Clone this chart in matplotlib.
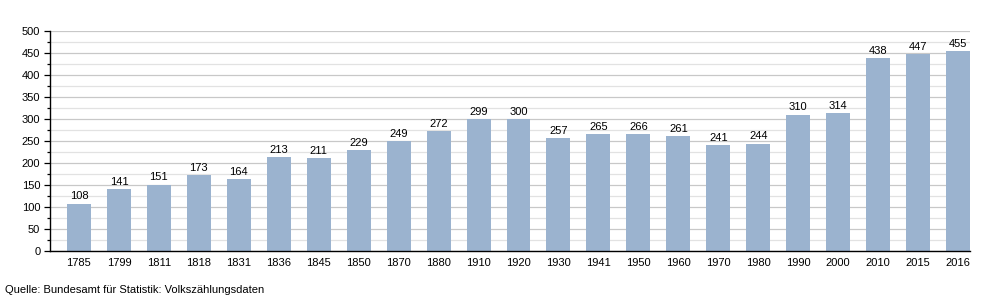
import numpy as np
import matplotlib
matplotlib.use("Agg")
import matplotlib.pyplot as plt
from matplotlib.ticker import MultipleLocator

years = ["1785", "1799", "1811", "1818", "1831", "1836", "1845", "1850", "1870", "1880",
         "1910", "1920", "1930", "1941", "1950", "1960", "1970", "1980", "1990", "2000",
         "2010", "2015", "2016"]
population = [108, 141, 151, 173, 164, 213, 211, 229, 249, 272,
              299, 300, 257, 265, 266, 261, 241, 244, 310, 314,
              438, 447, 455]

plt.rcParams['font.family'] = ['Liberation Sans', 'DejaVu Sans']

fig = plt.figure(figsize=(10, 3), dpi=100)
ax = fig.add_axes([0.05, 0.163, 0.92, 0.734])

x = np.arange(len(years))
ax.bar(x, population, width=0.6, color='#9bb3cf', zorder=2)
for xi, v in zip(x, population):
    ax.text(xi, v + 5, str(v), ha='center', va='bottom', fontsize=8, color='black')

ax.set_xlim(-0.725, len(years) - 0.7)
ax.set_ylim(0, 500)
ax.yaxis.set_major_locator(MultipleLocator(50))
ax.yaxis.set_minor_locator(MultipleLocator(25))
ax.grid(axis='y', which='major', color='#c8c8c8', linewidth=0.9, zorder=0)
ax.grid(axis='y', which='minor', color='#e2e2e2', linewidth=0.9, zorder=0)
ax.set_axisbelow(True)

ax.set_xticks(x)
ax.set_xticklabels(years, fontsize=8)
ax.tick_params(axis='x', length=0, pad=5)
ax.tick_params(axis='y', which='major', length=4, width=0.9, labelsize=8, pad=3)
ax.tick_params(axis='y', which='minor', length=2.5, width=0.9)

for s in ['top', 'right']:
    ax.spines[s].set_visible(False)
ax.spines['left'].set_linewidth(1.0)
ax.spines['bottom'].set_linewidth(1.0)

fig.text(0.005, 0.033, "Quelle: Bundesamt für Statistik: Volkszählungsdaten", fontsize=8,
         ha='left', va='center')

fig.savefig("out.png", dpi=100)
